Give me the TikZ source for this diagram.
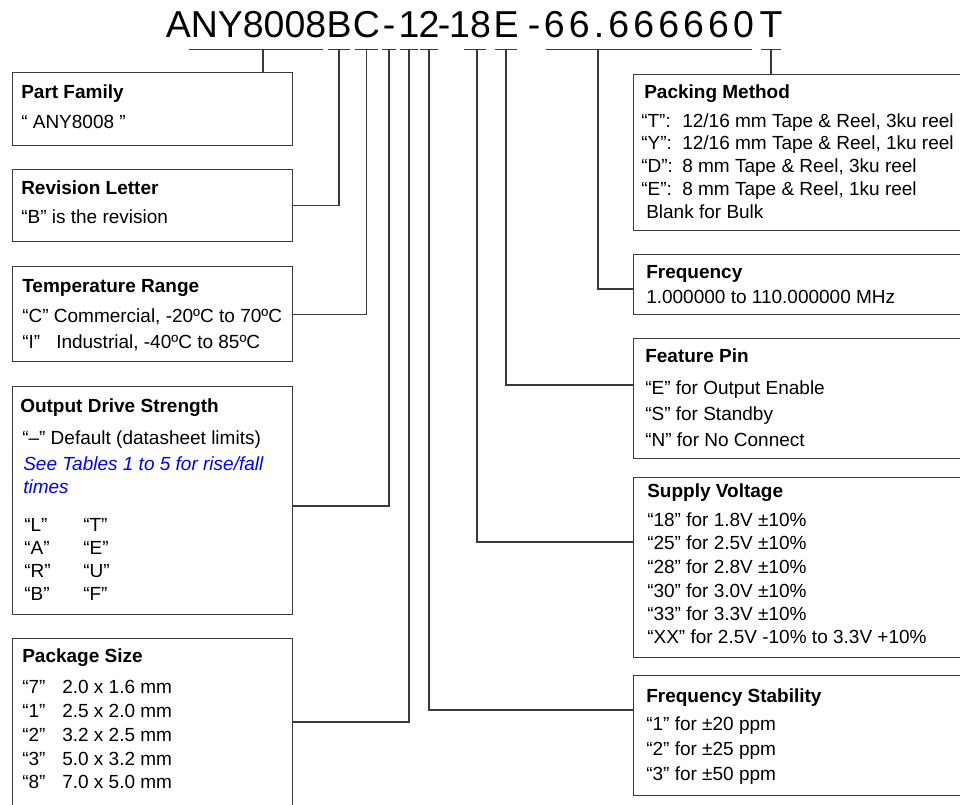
\documentclass[tikz,border=0pt]{standalone}
\usepackage{fontspec}
\setmainfont{Liberation Sans}
\usetikzlibrary{positioning, calc}
\definecolor{rule}{HTML}{3A3A3A}
\definecolor{seeblue}{HTML}{0000FF}
\newcommand{\boxlines}[1]{\begin{tabular}[t]{@{}l@{}}#1\end{tabular}}

\begin{document}
\begin{tikzpicture}[x=0.75pt, y=-0.75pt,
    part/.style={anchor=base, inner xsep=-1.5pt, inner ysep=9pt, text depth=0pt, font=\fontsize{28.1}{30}\selectfont},
    lbox/.style={draw=rule, line width=0.8pt, anchor=north west, minimum width=210pt, inner sep=0pt},
    rbox/.style={lbox, minimum width=262pt},
    txt/.style={anchor=base west, inner sep=0pt, font=\fontsize{14.25}{17.25}\selectfont},
    wire/.style={draw=rule, line width=0.8pt}]
  \useasboundingbox (0,0) rectangle (960,804);

  % part number, one node per field
  \node[part] (pAny) at (246,37) {ANY8008};
  \node[part] (pB) at (339,37) {B};
  \node[part] (pC) at (366.5,37) {C};
  \node[part, inner xsep=0pt] (pDrv) at (389,37) {-};
  \node[part] (pPkg) at (409,37) {1};
  \node[part] (pStb) at (429,37) {2};
  \node[part] (h1) at (444,37) {-};
  \node[part] (pVdd) at (470,37) {18};
  \node[part] (pPin) at (506,37) {E};
  \node[part] (h2) at (534,37) {-};
  \node[part, font=\fontsize{28.1}{30}\selectfont\addfontfeature{LetterSpace=11}] (pFrq) at (649,37) {66.666660};
  \node[part] (pPck) at (771,37) {T};

  % underlines
  \draw[wire] ([xshift=15.75pt]pAny.south west) -- ([xshift=-0.75pt]pAny.south east);
  \draw[wire] ([xshift=9.75pt]pVdd.south west) -- ([xshift=-2.25pt]pVdd.south east);
  \foreach \p in {pB, pC, pDrv, pPkg, pStb, pPin, pFrq, pPck}
    \draw[wire] (\p.south west) -- (\p.south east);

  % left boxes
  \node[lbox, minimum height=54.75pt] (fam) at (12,72) {};
  \node[lbox, minimum height=54pt] (rev) at (12,169) {};
  \node[lbox, minimum height=71.25pt] (tmp) at (12,266) {};
  \node[lbox, minimum height=171pt] (drv) at (12,386) {};
  \node[lbox, minimum height=126pt] (pkg) at (12,638) {};

  % right boxes
  \node[rbox, minimum height=117pt] (pck) at (633,74) {};
  \node[rbox, minimum height=45pt] (frq) at (633,254) {};
  \node[rbox, minimum height=90pt] (pin) at (633,338) {};
  \node[rbox, minimum height=135pt] (vdd) at (633,477) {};
  \node[rbox, minimum height=90pt] (stb) at (633,675) {};

  \node[txt] at (21,98) {\boxlines{\textbf{Part Family}\\[5.25pt]“ ANY8008 ”}};
  \node[txt] at (21,194) {\boxlines{\textbf{Revision Letter}\\[4.5pt]“B” is the revision}};
  \node[txt] at (22,292) {\boxlines{\textbf{Temperature Range}\\[5.25pt]
    “C” Commercial, -20ºC to 70ºC\\[2.25pt]
    \makebox[25.5pt][l]{“I”}Industrial, -40ºC to 85ºC}};
  \node[txt] at (20,412) {\boxlines{\textbf{Output Drive Strength}\\[6.75pt]
    \hspace{1.5pt}“–” Default (datasheet limits)\\[2.25pt]
    \hspace{2.25pt}{\color{seeblue}\itshape See Tables 1 to 5 for rise/fall}\\
    \hspace{2.25pt}{\color{seeblue}\itshape times}\\[11.25pt]
    \hspace{3pt}\makebox[44.25pt][l]{“L”}“T”\\
    \hspace{3pt}\makebox[44.25pt][l]{“A”}“E”\\
    \hspace{3pt}\makebox[44.25pt][l]{“R”}“U”\\
    \hspace{3pt}\makebox[44.25pt][l]{“B”}“F”}};
  \node[txt] at (22,662) {\boxlines{\textbf{Package Size}\\[6pt]
    \makebox[30pt][l]{“7”}2.0 x 1.6 mm\\[0.75pt]
    \makebox[30pt][l]{“1”}2.5 x 2.0 mm\\[0.75pt]
    \makebox[30pt][l]{“2”}3.2 x 2.5 mm\\[0.75pt]
    \makebox[30pt][l]{“3”}5.0 x 3.2 mm\\
    \makebox[30pt][l]{“8”}7.0 x 5.0 mm}};

  \node[txt] at (641,98) {\boxlines{\hspace{2.25pt}\textbf{Packing Method}\\[4.5pt]
    \makebox[30.75pt][l]{“T”:}12/16 mm Tape \& Reel, 3ku reel\\[-0.75pt]
    \makebox[30.75pt][l]{“Y”:}12/16 mm Tape \& Reel, 1ku reel\\
    \makebox[30.75pt][l]{“D”:}8 mm Tape \& Reel, 3ku reel\\
    \makebox[30.75pt][l]{“E”:}8 mm Tape \& Reel, 1ku reel\\
    \hspace{3.75pt}Blank for Bulk}};
  \node[txt] at (646,278) {\boxlines{\textbf{Frequency}\\[1.5pt]1.000000 to 110.000000 MHz}};
  \node[txt] at (645,362) {\boxlines{\textbf{Feature Pin}\\[6.75pt]
    “E” for Output Enable\\[2.25pt]
    “S” for Standby\\[2.25pt]
    “N” for No Connect}};
  \node[txt] at (647,497) {\boxlines{\textbf{Supply Voltage}\\[4.5pt]
    “18” for 1.8V ±10\%\\
    “25” for 2.5V ±10\%\\[0.75pt]
    “28” for 2.8V ±10\%\\[0.75pt]
    “30” for 3.0V ±10\%\\
    “33” for 3.3V ±10\%\\
    “XX” for 2.5V -10\% to 3.3V +10\%}};
  \node[txt] at (646,702) {\boxlines{\textbf{Frequency Stability}\\[3.75pt]
    “1” for ±20 ppm\\[1.5pt]
    “2” for ±25 ppm\\[1.5pt]
    “3” for ±50 ppm}};

  % connectors from the fields to their boxes
  \draw[wire] ([xshift=12.75pt]pAny.south) -- ([xshift=12.75pt]pAny.south |- fam.north);
  \draw[wire] (pB.south) |- (rev.east);
  \draw[wire] (pC.south) |- (tmp.east);
  \draw[wire] (pDrv.south) |- (drv.east |- 0,506);
  \draw[wire] (pPkg.south) |- (pkg.east |- 0,722);
  \draw[wire] (pStb.south) |- (stb.west |- 0,710);
  \draw[wire] ([xshift=5.25pt]pVdd.south) |- (vdd.west |- 0,542);
  \draw[wire] (pPin.south) |- (pin.west |- 0,385);
  \draw[wire] ([xshift=-38.25pt]pFrq.south) |- (frq.west |- 0,289);
  \draw[wire] (pPck.south) -- (pPck.south |- pck.north);
\end{tikzpicture}
\end{document}
